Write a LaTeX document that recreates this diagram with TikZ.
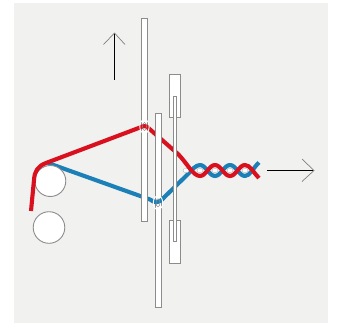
\documentclass[tikz,border=0pt]{standalone}
\definecolor{bgc}{HTML}{F1F1F0}
\definecolor{redc}{HTML}{D9101E}
\definecolor{bluec}{HTML}{1B80B8}
\definecolor{edgec}{HTML}{8C8C8C}
\tikzset{
  partbox/.style={draw=edgec,fill=white,line width=0.9pt},
  roller/.style={draw=edgec,fill=white,line width=0.9pt},
  yarnred/.style={draw=redc,line width=4.1pt,line join=round},
  yarnblue/.style={draw=bluec,line width=4.1pt,line join=round},
  shaft/.style={draw=black,line width=0.9pt},
  headline/.style={draw=black!50,line width=0.7pt},
  eyeout/.style={draw=white,line width=0.9pt},
  eyein/.style={draw=edgec,line width=0.5pt},
  weft/.style={draw=edgec!60,fill=white,line width=0.4pt}
}
\begin{document}
\begin{tikzpicture}[x=1pt,y=-1pt]
\useasboundingbox (0,0) rectangle (337,325);
\fill[bgc] (14,3) rectangle (328,323);
% blue yarn, left end hidden behind the roller
\draw[yarnblue] (48,163) -- (150,199.5) .. controls (155,202.5) and (158,204) .. (163,198.5) -- (188,174)
  .. controls (192,169.5) and (196,165) .. (200,165)
  .. controls (206,165) and (209,176) .. (215,176)
  .. controls (221,176) and (224,165) .. (230,165)
  .. controls (236,165) and (239,176) .. (245,176)
  .. controls (250,176) and (253,168) .. (259,162.5);
% rollers
\draw[roller] (50.3,181) circle (15.5);
\draw[roller] (49,227.5) circle (15.8);
% arrows
\coordinate (upS) at (114.5,80);
\coordinate (upT) at (114.5,33);
\coordinate (rtS) at (267,170.5);
\coordinate (rtT) at (314,170.5);
\draw[shaft] (upS) -- (upT);
\draw[headline] (103.5,44.5) -- (upT) -- (125,44.5);
\draw[shaft] (rtS) -- (rtT);
\draw[headline] (302,159) -- (rtT) -- (302,181.5);
% reed boxes
\draw[partbox] (169.5,74.5) rectangle (180.5,117);
\draw[partbox] (169.5,220.5) rectangle (180.5,263);
% weft dots
\foreach \x in {186,200,215,230,245}
  \draw[weft] (\x,170.5) ellipse (3 and 2.2);
% frame 1
\draw[partbox] (141.5,18.5) rectangle (147.5,221.5);
% red yarn
\draw[yarnred,line cap=butt] (31,211) -- (34,180) .. controls (34.5,171) and (38,166) .. (46,163) -- (140,127.5)
  .. controls (144,125.5) and (146,125.5) .. (149,128.5) -- (178,154)
  .. controls (187,163) and (193,176) .. (200,176)
  .. controls (206,176) and (209,165) .. (215,165)
  .. controls (221,165) and (224,176) .. (230,176)
  .. controls (236,176) and (239,165) .. (245,165)
  .. controls (250,165) and (253,172) .. (259,178);
% frame 2
\draw[partbox] (155.5,113.5) rectangle (161.5,307);
% reed slit
\draw[partbox] (173.5,96) rectangle (176.5,241.5);
% blue over frame 2 at its eye
\draw[yarnblue] (152,200.5) .. controls (155,202.5) and (158,204) .. (164,197.5);
% eyes
\draw[eyeout] (144.5,126.5) ellipse (4.7 and 7);
\draw[eyein] (144.5,126.5) ellipse (2 and 4);
\draw[eyeout] (158,202.7) ellipse (4.7 and 7);
\draw[eyein] (158,202.7) ellipse (2 and 4);
\end{tikzpicture}
\end{document}
